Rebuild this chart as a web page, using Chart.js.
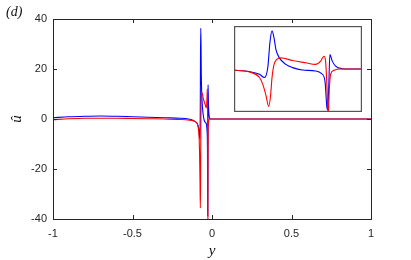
<!DOCTYPE html>
<html>
<head>
<meta charset="utf-8">
<script src="https://cdn.jsdelivr.net/npm/chart.js@4.4.1/dist/chart.umd.min.js"></script>
<style>
  html, body { margin: 0; padding: 0; background: #fff; }
  #wrap { position: relative; width: 411px; height: 260px; }
  #main { position: absolute; left: 0; top: 0; }
  #inset { position: absolute; left: 234px; top: 26px; }
  #tag { position: absolute; left: 6px; top: 4px; font: italic 14px "Liberation Serif", "DejaVu Serif", serif; color: #111; }
</style>
</head>
<body>
<div id="wrap">
  <canvas id="main" width="411" height="260"></canvas>
  <canvas id="inset" width="128" height="86"></canvas>
  <div id="tag">(d)</div>
</div>
<script>
// valores (y, û)
const blueX = [-1, -0.9, -0.8, -0.7, -0.6, -0.5, -0.4, -0.3, -0.2, -0.15, -0.12, -0.1, -0.0884, -0.0806,
  -0.0767, -0.074, -0.0722, -0.0706, -0.069, -0.0675, -0.0648, -0.0596, -0.0543, -0.0465, -0.036,
  -0.0313, -0.0286, -0.0271, -0.0265, -0.0257, -0.0247, -0.0228, -0.0202, -0.015, -0.01, 0, 0.5, 1];
const blueY = [0.5, 0.9, 1.1, 1.2, 1.1, 0.9, 0.7, 0.5, 0.3, 0, -0.5, -1.3, -2.5, -5.0,
  -8.1, 1.3, 26.2, 36.3, 29.4, 18.4, 10.6, 4.4, 1.3, -1.0, -1.9,
  -4.4, -11.3, -36.3, -38.8, -20.7, 13.7, 7.5, 2.8, 0.3, 0, 0, 0, 0];

const redX = [-1, -0.9, -0.8, -0.7, -0.6, -0.5, -0.4, -0.3, -0.2, -0.15, -0.12, -0.1, -0.0884, -0.0806,
  -0.078, -0.0754, -0.0733, -0.0719, -0.0706, -0.069, -0.0669, -0.0635, -0.0543, -0.0438, -0.036,
  -0.032, -0.0294, -0.0281, -0.0271, -0.026, -0.0252, -0.0241, -0.0215, -0.0176, -0.01, 0, 0.5, 1];
const redY = [-0.3, 0.1, 0.3, 0.3, 0.3, 0.2, 0.1, 0, -0.2, -0.4, -0.7, -1.3, -2.8, -8.1,
  -14.4, -25.3, -35.6, -26.9, -8.1, 4.4, 9.1, 10.6, 8.1, 5.9, 4.4,
  7.5, 12.2, 7.5, -14.4, -45, -20.7, -5, -1.3, 0, 0, 0, 0, 0];

const xTicks = [-1, -0.5, 0, 0.5, 1];
const yTicks = [-40, -20, 0, 20, 40];

const AXIS_COLOR = '#262626';
const TICK_FONT = { family: '"Liberation Sans", Arial, sans-serif', size: 11 };
const LABEL_FONT = 'italic 15px "Liberation Serif", "DejaVu Serif", serif';

const toPts = (xs, ys) => xs.map((x, i) => ({ x, y: ys[i] }));

function makeDatasets() {
  return [
    { label: 'blue', data: toPts(blueX, blueY), borderColor: '#0000ff', borderWidth: 1.1,
      pointRadius: 0, cubicInterpolationMode: 'monotone', order: 2 },
    { label: 'red', data: toPts(redX, redY), borderColor: '#ff0000', borderWidth: 1.1,
      pointRadius: 0, cubicInterpolationMode: 'monotone', order: 1 },
  ];
}

// caja estilo MATLAB con ticks hacia dentro + etiqueta û
const boxPlugin = {
  id: 'box',
  afterDraw(chart) {
    const { ctx, chartArea: a, scales } = chart;
    ctx.save();
    ctx.strokeStyle = AXIS_COLOR;
    ctx.lineWidth = 1;
    ctx.strokeRect(a.left + 0.5, a.top + 0.5, a.right - a.left, a.bottom - a.top);
    const L = 4;
    ctx.beginPath();
    xTicks.forEach(v => {
      const px = Math.round(scales.x.getPixelForValue(v)) + 0.5;
      ctx.moveTo(px, a.bottom); ctx.lineTo(px, a.bottom - L);
      ctx.moveTo(px, a.top); ctx.lineTo(px, a.top + L);
    });
    yTicks.forEach(v => {
      const py = Math.round(scales.y.getPixelForValue(v)) + 0.5;
      ctx.moveTo(a.left, py); ctx.lineTo(a.left + L, py);
      ctx.moveTo(a.right, py); ctx.lineTo(a.right - L, py);
    });
    ctx.stroke();

    ctx.translate(17, scales.y.getPixelForValue(0));
    ctx.rotate(-Math.PI / 2);
    ctx.fillStyle = '#111';
    ctx.font = LABEL_FONT;
    ctx.textAlign = 'center';
    ctx.textBaseline = 'middle';
    ctx.fillText('û', 0, 0);
    ctx.restore();
  },
};

new Chart(document.getElementById('main'), {
  type: 'line',
  data: { datasets: makeDatasets() },
  options: {
    responsive: false,
    animation: false,
    layout: { padding: { left: 0, right: 40, top: 19, bottom: 0 } },
    plugins: { legend: { display: false }, tooltip: { enabled: false } },
    scales: {
      x: {
        type: 'linear', min: -1, max: 1,
        afterFit: (s) => { s.height = 41; },
        afterBuildTicks: (s) => { s.ticks = xTicks.map(v => ({ value: v })); },
        grid: { display: false, drawTicks: false },
        border: { display: false },
        ticks: { padding: 8, color: AXIS_COLOR, font: TICK_FONT, maxRotation: 0,
          callback: (v) => String(v) },
        title: { display: true, text: 'y', color: '#111', padding: { top: 2, bottom: 0 },
          font: { family: '"Liberation Serif", "DejaVu Serif", serif', size: 15, style: 'italic' } },
      },
      y: {
        type: 'linear', min: -40, max: 40,
        afterFit: (s) => { s.width = 53; },
        afterBuildTicks: (s) => { s.ticks = yTicks.map(v => ({ value: v })); },
        grid: { display: false, drawTicks: false },
        border: { display: false },
        ticks: { padding: 6, color: AXIS_COLOR, font: TICK_FONT, callback: (v) => String(v) },
      },
    },
  },
  plugins: [boxPlugin],
});

// recuadro ampliado: y en [-0.1, 0]
const frame = {
  id: 'frame',
  afterDraw(chart) {
    const { ctx } = chart;
    ctx.save();
    ctx.strokeStyle = '#555';
    ctx.lineWidth = 1.2;
    ctx.strokeRect(0.6, 0.6, chart.width - 1.2, chart.height - 1.2);
    ctx.restore();
  },
};

new Chart(document.getElementById('inset'), {
  type: 'line',
  data: { datasets: makeDatasets() },
  options: {
    responsive: false,
    animation: false,
    layout: { padding: 1 },
    plugins: { legend: { display: false }, tooltip: { enabled: false } },
    scales: {
      x: { type: 'linear', min: -0.1, max: 0, display: false },
      y: { type: 'linear', min: -40, max: 40, display: false },
    },
  },
  plugins: [frame],
});
</script>
</body>
</html>
